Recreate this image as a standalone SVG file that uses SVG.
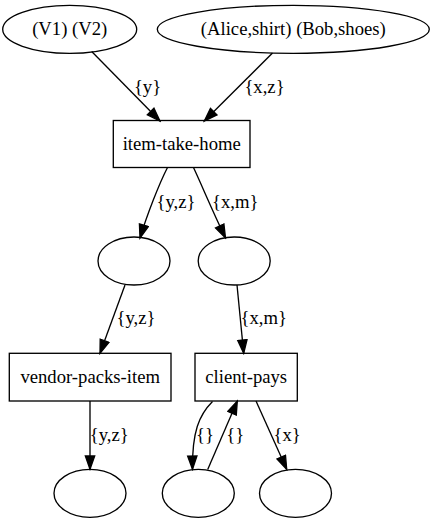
<svg xmlns="http://www.w3.org/2000/svg" width="438" height="523" viewBox="0 0 438 523">
<style>
  .shape { fill: none; stroke: #000; stroke-width: 1.33; }
  .edge { fill: none; stroke: #000; stroke-width: 1.33; marker-end: url(#arrow); }
  text { font-size: 18.67px; fill: #000; text-anchor: middle; }
</style>
<defs>
  <marker id="arrow" markerUnits="userSpaceOnUse" markerWidth="16" markerHeight="12" viewBox="-1 -1 16 12" refX="13.33" refY="4.67" orient="auto">
    <path d="M0,0 L13.33,4.67 L0,9.33 Z" fill="#000" stroke="#000" stroke-width="1.33"/>
  </marker>
</defs>
<rect width="438" height="523" fill="#fff"/>
<g font-family="'Liberation Serif', 'Times New Roman', 'DejaVu Serif', serif">
<g id="connectors">
  <path class="edge" d="M91.7,51.5 L160,121"/>
  <text x="147.5" y="93">{y}</text>
  <path class="edge" d="M272.5,53 L204.3,121"/>
  <text x="264.5" y="93">{x,z}</text>
  <path class="edge" d="M167.5,167.5 C159,184 147,215 140,238"/>
  <text x="176" y="208">{y,z}</text>
  <path class="edge" d="M193.5,167.5 C203,188 212,210 225.5,238"/>
  <text x="235.3" y="208">{x,m}</text>
  <path class="edge" d="M125,285 L100,353.3"/>
  <text x="136" y="324">{y,z}</text>
  <path class="edge" d="M237,285 L243.7,353.3"/>
  <text x="263.8" y="324">{x,m}</text>
  <path class="edge" d="M90,401 L90,469.3"/>
  <text x="109.2" y="441">{y,z}</text>
  <path class="edge" d="M212.5,401.5 C199,415 192,432 192.5,469.3"/>
  <text x="205" y="441">{}</text>
  <path class="edge" d="M207.7,469.5 L237.3,401"/>
  <text x="235.2" y="441">{}</text>
  <path class="edge" d="M256,401 L286.7,469.3"/>
  <text x="287.2" y="441">{x}</text>
</g>

<g id="n_v1v2">
  <ellipse class="shape" cx="69.7" cy="29.3" rx="67" ry="24"/>
  <text x="69.7" y="35">(V1) (V2)</text>
</g>
<g id="n_alice_bob">
  <ellipse class="shape" cx="293.3" cy="29.3" rx="136" ry="24"/>
  <text x="293.3" y="35">(Alice,shirt) (Bob,shoes)</text>
</g>
<g id="n_item_take_home">
  <rect class="shape" x="113.3" y="120.5" width="136.7" height="47"/>
  <text x="181.7" y="149.6">item-take-home</text>
</g>
<g id="n_mid1">
  <ellipse class="shape" cx="134" cy="261" rx="36" ry="24"/>
</g>
<g id="n_mid2">
  <ellipse class="shape" cx="234.2" cy="261" rx="36" ry="24"/>
</g>
<g id="n_vendor_packs_item">
  <rect class="shape" x="9.3" y="353.3" width="161.7" height="47.7"/>
  <text x="90.2" y="382.8">vendor-packs-item</text>
</g>
<g id="n_client_pays">
  <rect class="shape" x="195" y="353.3" width="102.3" height="47.7"/>
  <text x="246.2" y="382.8">client-pays</text>
</g>
<g id="n_bot1">
  <ellipse class="shape" cx="90" cy="493.3" rx="36" ry="24"/>
</g>
<g id="n_bot2">
  <ellipse class="shape" cx="198.3" cy="493.3" rx="36" ry="24"/>
</g>
<g id="n_bot3">
  <ellipse class="shape" cx="295.5" cy="493.3" rx="36" ry="24"/>
</g>
</g>
</svg>
